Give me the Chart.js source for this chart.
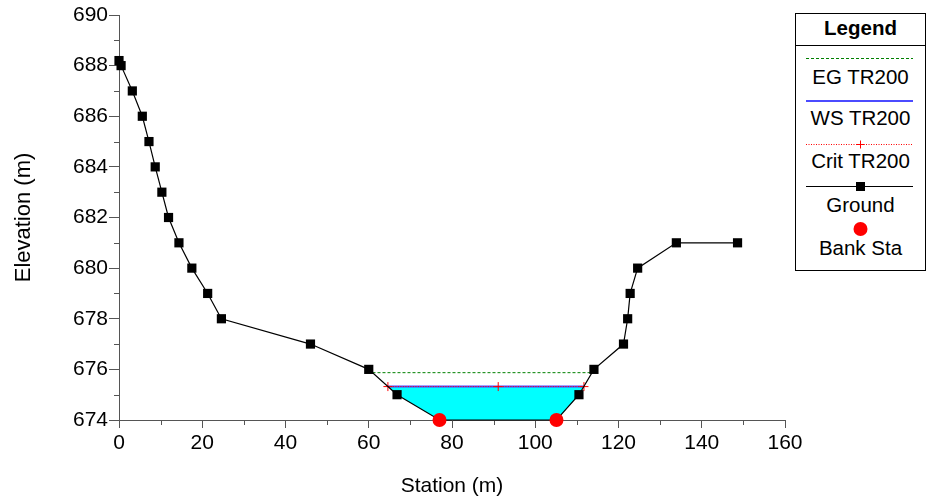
<!DOCTYPE html>
<html><head><meta charset="utf-8">
<script src="https://cdn.jsdelivr.net/npm/chart.js@4/dist/chart.umd.min.js"></script>
<style>
html,body{margin:0;padding:0;background:#fff;}
#wrap{position:relative;width:932px;height:501px;font-family:"Liberation Sans",Arial,sans-serif;overflow:hidden;}
#c{position:absolute;left:0;top:0;}
#legend{position:absolute;left:795px;top:13px;width:129px;height:256px;border:1px solid #000;background:#fff;}
#legend svg{position:absolute;left:0;top:0;}
#legend .t{position:absolute;left:0;width:129px;text-align:center;font-size:20.5px;line-height:20px;color:#000;white-space:nowrap;}
#legend .h{font-weight:bold;}
</style></head>
<body>
<div id="wrap">
<canvas id="c" width="932" height="501"></canvas>
<div id="legend">
<svg width="129" height="256" xmlns="http://www.w3.org/2000/svg">
  <line x1="0" y1="31.5" x2="129" y2="31.5" stroke="#000" stroke-width="1"/>
  <line x1="10" y1="44.5" x2="117" y2="44.5" stroke="#008000" stroke-width="1" stroke-dasharray="3,2"/>
  <line x1="10" y1="87" x2="117" y2="87" stroke="#4b4bff" stroke-width="2"/>
  <line x1="10" y1="130.5" x2="117" y2="130.5" stroke="#ff0000" stroke-width="1" stroke-dasharray="1,1.5"/>
  <line x1="60.5" y1="130.5" x2="68.5" y2="130.5" stroke="#ff0000" stroke-width="1"/>
  <line x1="64.5" y1="126.5" x2="64.5" y2="134.5" stroke="#ff0000" stroke-width="1"/>
  <line x1="10" y1="172.5" x2="117" y2="172.5" stroke="#000" stroke-width="1"/>
  <rect x="60" y="168" width="9" height="9" fill="#000"/>
  <circle cx="64.5" cy="215" r="7" fill="#ff0000"/>
</svg>
<div class="t h" style="top:4px">Legend</div>
<div class="t" style="top:53px">EG TR200</div>
<div class="t" style="top:94px">WS TR200</div>
<div class="t" style="top:137px">Crit TR200</div>
<div class="t" style="top:181px">Ground</div>
<div class="t" style="top:224px">Bank Sta</div>
</div>
</div>
<script>
// ---- Data ----
const groundStation = [0, 0.5, 3.2, 5.6, 7.2, 8.7, 10.3, 11.9, 14.4, 17.5, 21.3, 24.6, 46.0, 60.0, 66.8, 77.0, 105.1, 110.5, 114.1, 121.2, 122.2, 122.8, 124.6, 133.9, 148.6];
const groundElev    = [688.2, 688.0, 687, 686, 685, 684, 683, 682, 681, 680, 679, 678, 677, 676, 675, 674, 674, 675, 676, 677, 678, 679, 680, 681, 681];
const bankStation = [77.0, 105.1];
const bankElev    = [674, 674];
const egStation = [60.9, 113.7];
const egElev    = 675.87;
const wsStation = [64.6, 111.7];
const wsElev    = 675.32;
const critStation = [64.6, 91.1, 111.7];
const critElev    = 675.32;
const xTicks = [0, 20, 40, 60, 80, 100, 120, 140, 160];
const yTicks = [674, 676, 678, 680, 682, 684, 686, 688, 690];
const xMinor = [10, 30, 50, 70, 90, 110, 130, 150];
const yMinor = [675, 677, 679, 681, 683, 685, 687, 689];

// ---- Build ----
const pts = (xs, ys) => xs.map((x, i) => ({x, y: Array.isArray(ys) ? ys[i] : ys}));
// water polygon: WS line left->right, then ground below WS back right->left
const waterPoly = [{x: wsStation[0], y: wsElev}, {x: wsStation[1], y: wsElev}];
for (let i = groundStation.length - 1; i >= 0; i--) {
  const s = groundStation[i];
  if (s > wsStation[0] && s < wsStation[1] && groundElev[i] < wsElev) waterPoly.push({x: s, y: groundElev[i]});
}

Chart.defaults.font.family = '"Liberation Sans", Arial, sans-serif';
Chart.defaults.color = '#000';

const minorTicks = {
  id: 'minorTicks',
  beforeDatasetsDraw(chart) {
    const {ctx, scales: {x, y}} = chart;
    ctx.save();
    ctx.strokeStyle = '#555';
    ctx.lineWidth = 1;
    ctx.beginPath();
    xMinor.forEach(v => { const px = Math.round(x.getPixelForValue(v)) + 0.5; ctx.moveTo(px, y.bottom); ctx.lineTo(px, y.bottom + 5); });
    yMinor.forEach(v => { const py = Math.round(y.getPixelForValue(v)) + 0.5; ctx.moveTo(x.left, py); ctx.lineTo(x.left - 5, py); });
    ctx.stroke();
    ctx.restore();
  }
};

new Chart(document.getElementById('c'), {
  type: 'scatter',
  data: {
    datasets: [
      {label: 'Water', data: waterPoly, showLine: true, fill: 'shape', backgroundColor: '#00ffff', borderWidth: 0, borderColor: 'rgba(0,0,0,0)', pointRadius: 0, order: 10},
      {label: 'EG TR200', data: pts(egStation, egElev), showLine: true, borderColor: '#008000', borderWidth: 1, borderDash: [3, 2], pointRadius: 0, order: 6},
      {label: 'WS TR200', data: pts(wsStation, wsElev), showLine: true, borderColor: '#4b4bff', borderWidth: 2, pointRadius: 0, order: 5},
      {label: 'Crit TR200', data: pts(critStation, critElev), showLine: true, borderColor: '#ff0000', borderWidth: 1, borderDash: [1, 1.5], pointStyle: 'cross', pointRadius: 4.5, pointBorderColor: '#ff0000', pointBorderWidth: 1, order: 4, clip: false},
      {label: 'Ground', data: pts(groundStation, groundElev), showLine: true, borderColor: '#000', borderWidth: 1.2, pointStyle: 'rect', pointRadius: 6.5, pointBackgroundColor: '#000', pointBorderColor: '#000', pointBorderWidth: 0, order: 3, clip: false},
      {label: 'Bank Sta', data: pts(bankStation, bankElev), showLine: false, pointStyle: 'circle', pointRadius: 7, pointBackgroundColor: '#ff0000', pointBorderColor: '#ff0000', pointBorderWidth: 0, order: 1, clip: false}
    ]
  },
  options: {
    responsive: false,
    animation: false,
    events: [],
    layout: {padding: {left: 0, top: 15, right: 147, bottom: 0}},
    plugins: {legend: {display: false}, tooltip: {enabled: false}},
    scales: {
      x: {
        type: 'linear', min: 0, max: 160,
        afterBuildTicks: s => { s.ticks = xTicks.map(v => ({value: v})); },
        afterFit: s => { s.height = 81; },
        grid: {drawOnChartArea: false, drawTicks: true, tickLength: 8, color: '#555'},
        border: {display: true, color: '#555'},
        ticks: {font: {size: 21}, color: '#000', padding: 3, maxRotation: 0},
        title: {display: true, text: 'Station (m)', font: {size: 21}, color: '#000', padding: {top: 0, bottom: 2}}
      },
      y: {
        type: 'linear', min: 674, max: 690,
        afterBuildTicks: s => { s.ticks = yTicks.map(v => ({value: v})); },
        afterFit: s => { s.width = 119; },
        grid: {drawOnChartArea: false, drawTicks: true, tickLength: 10, color: '#555'},
        border: {display: true, color: '#555'},
        ticks: {font: {size: 21}, color: '#000', padding: 1},
        title: {display: true, text: 'Elevation (m)', font: {size: 22}, color: '#000', padding: {top: 11, bottom: 0}}
      }
    }
  },
  plugins: [minorTicks]
});
</script>
</body></html>
